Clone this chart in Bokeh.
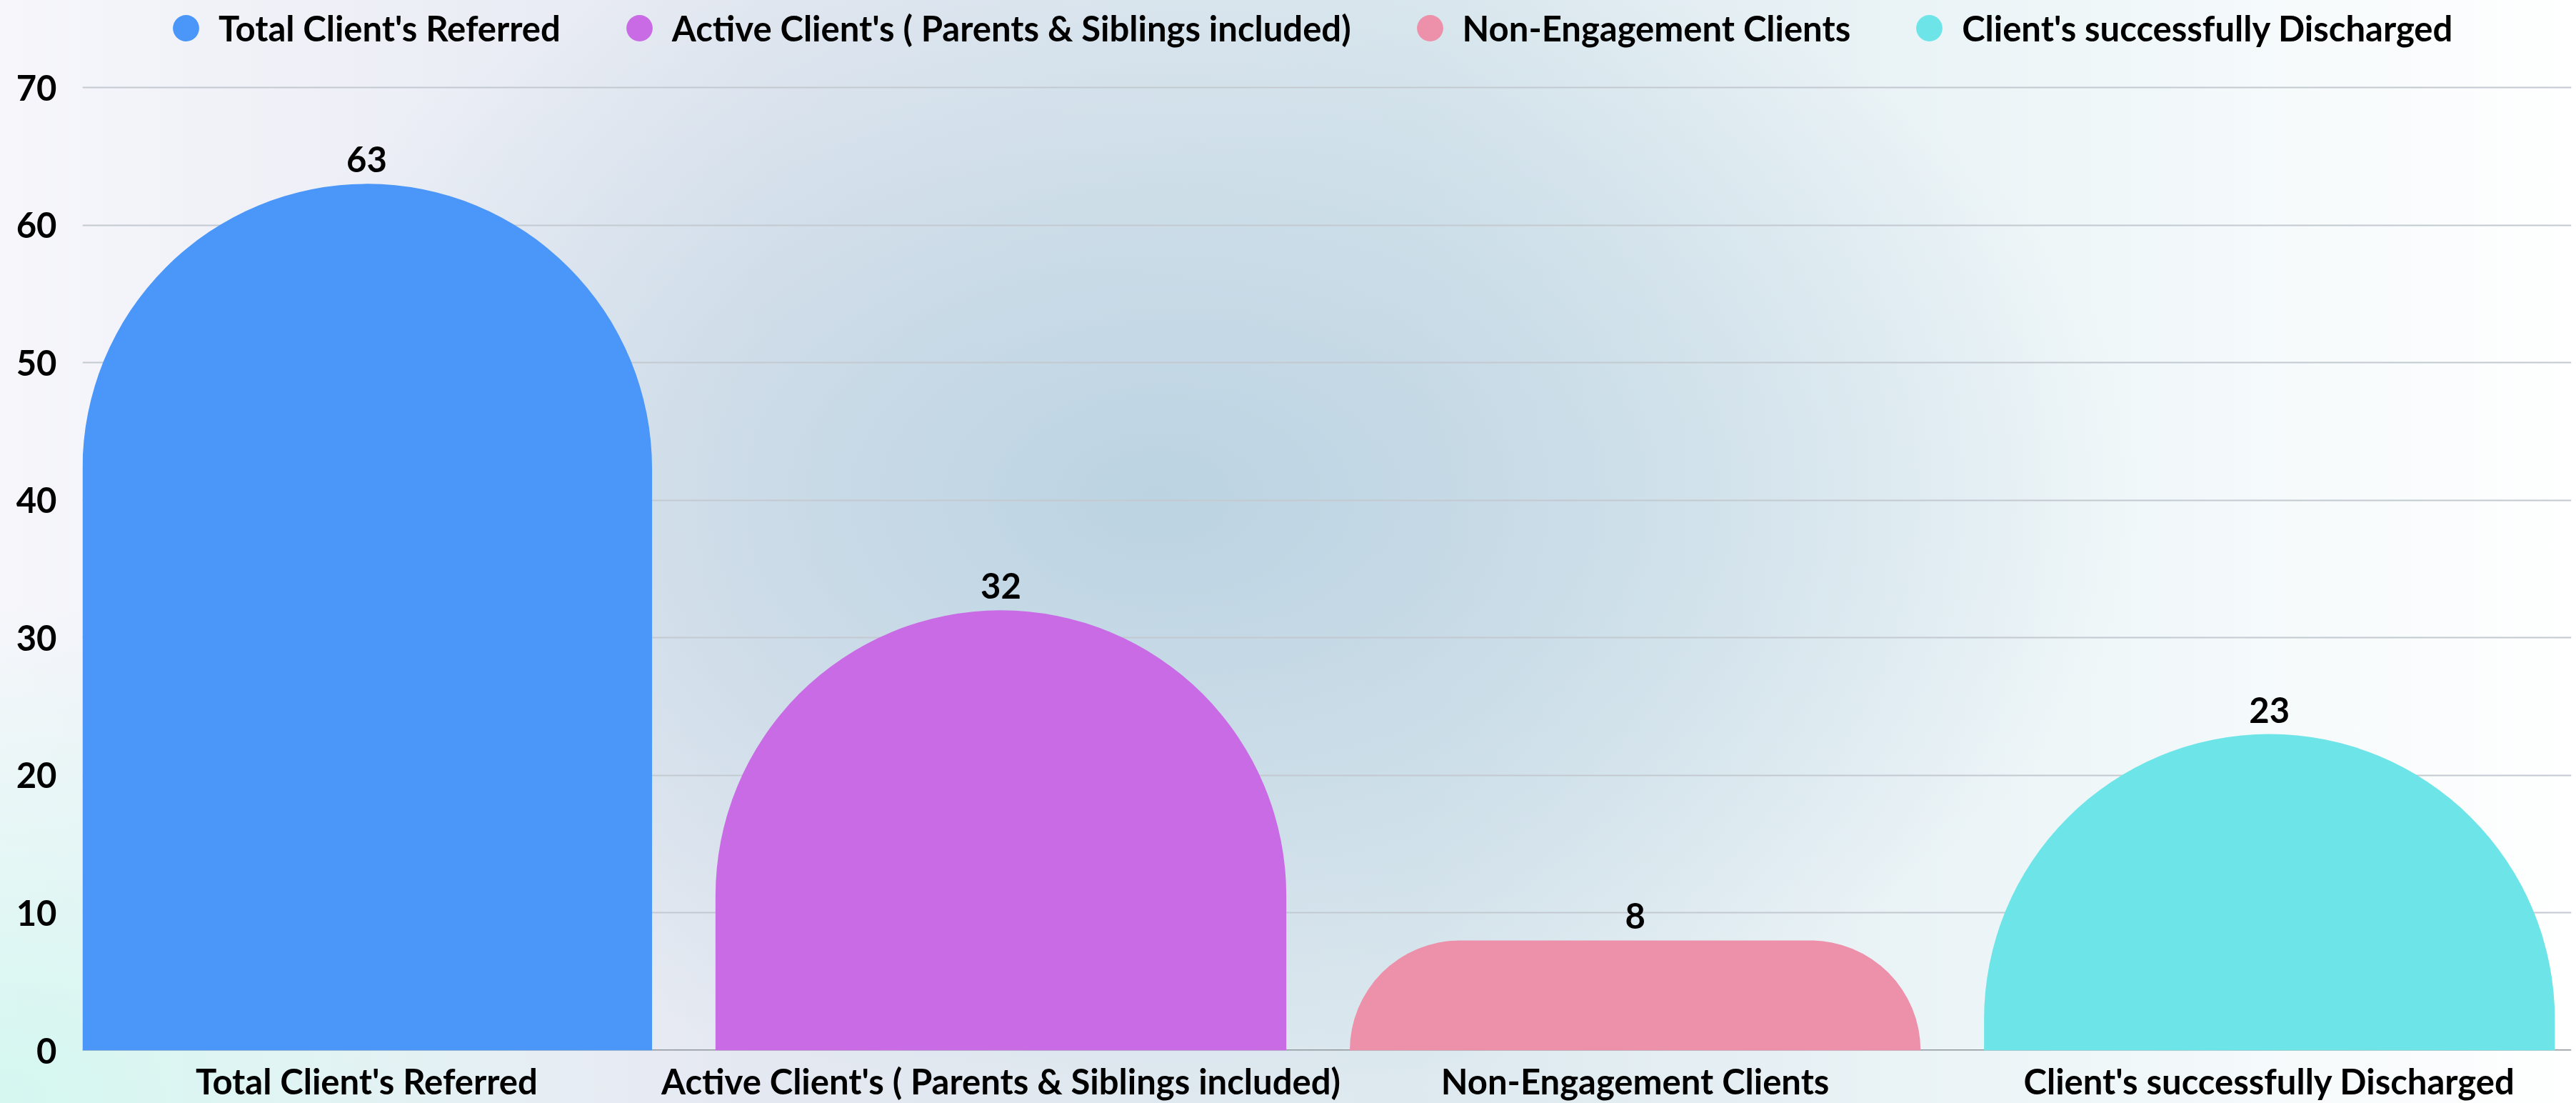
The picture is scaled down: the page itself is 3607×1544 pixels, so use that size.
from bokeh.plotting import figure
from bokeh.models import (ColumnDataSource, Range1d, FixedTicker, Legend, LegendItem, Span)
from bokeh.core.properties import value
from bokeh.embed import file_html
from bokeh.resources import INLINE

categories = ["Total Client's Referred",
              "Active Client's ( Parents & Siblings included)",
              "Non-Engagement Clients",
              "Client's successfully Discharged"]
counts = [63, 32, 8, 23]
colors = ["#4A96F9", "#C96BE5", "#ED91AA", "#6DE5E8"]
y_ticks = [0, 10, 20, 30, 40, 50, 60, 70]

FONT = "Lato"
FSIZE = "49px"

positions = list(range(len(categories)))
src = ColumnDataSource(dict(x=positions, top=counts, color=colors,
                            label=[str(c) for c in counts]))

p = figure(width=3607, height=1544, title=None,
           x_range=Range1d(-0.448, 3.476), y_range=Range1d(0, 76.34),
           output_backend="svg", toolbar_location=None,
           min_border_left=115, min_border_right=7, min_border_top=0,
           min_border_bottom=74)

p.background_fill_color = None
p.border_fill_color = None
p.outline_line_color = None
p.styles = {
    "background-image": (
        "radial-gradient(ellipse 38% 55% at 45% 45%, rgba(186,210,225,0.95) 0%, "
        "rgba(186,210,225,0.55) 45%, rgba(186,210,225,0) 100%), "
        "radial-gradient(ellipse 25% 45% at 0% 100%, rgba(212,247,240,1) 0%, rgba(212,247,240,0) 100%), "
        "linear-gradient(90deg, #f6f6fb 0%, #e4e8f1 30%, #dde9ef 55%, #eef6f8 80%, #ffffff 100%)"
    )
}

p.ygrid.grid_line_color = "#c3c9d0"
p.ygrid.grid_line_width = 2
p.xgrid.grid_line_color = None

p.add_layout(Span(location=0, dimension="width", line_color="#8e959b",
                  line_width=3, level="underlay"))

p.vbar(x="x", top="top", bottom=0, width=0.9, source=src,
       fill_color="color", line_color=None, border_radius=(400, 400, 0, 0))

p.text(x="x", y="top", text="label", source=src, y_offset=-34,
       text_align="center", text_baseline="middle",
       text_font=value(FONT), text_font_style="bold", text_font_size=FSIZE,
       text_color="black")

items = []
for i, (cat, col) in enumerate(zip(categories, colors)):
    s = ColumnDataSource(dict(x=[positions[i]], y=[counts[i]]))
    r = p.scatter("x", "y", source=s, marker="circle", size=1,
                  fill_color=col, line_color=None, visible=False)
    items.append(LegendItem(label=cat, renderers=[r]))

legend = Legend(items=items, location=(99, 1385), orientation="horizontal",
                glyph_width=92, glyph_height=92, padding=0, margin=0,
                spacing=64, label_standoff=0,
                background_fill_alpha=0, border_line_alpha=0,
                label_text_font=FONT, label_text_font_style="bold",
                label_text_font_size=FSIZE, label_text_color="black")
p.add_layout(legend, "center")

p.yaxis.ticker = FixedTicker(ticks=y_ticks)
p.yaxis.axis_line_color = None
p.yaxis.major_tick_line_color = None
p.yaxis.minor_tick_line_color = None
p.yaxis.major_label_standoff = 30
p.yaxis.major_label_text_font = FONT
p.yaxis.major_label_text_font_style = "bold"
p.yaxis.major_label_text_font_size = FSIZE
p.yaxis.major_label_text_color = "black"

p.xaxis.ticker = FixedTicker(ticks=positions)
p.xaxis.major_label_overrides = {i: c for i, c in zip(positions, categories)}
p.xaxis.axis_line_color = None
p.xaxis.major_tick_line_color = None
p.xaxis.minor_tick_line_color = None
p.xaxis.major_label_standoff = 7
p.xaxis.major_label_text_font = FONT
p.xaxis.major_label_text_font_style = "bold"
p.xaxis.major_label_text_font_size = FSIZE
p.xaxis.major_label_text_color = "black"

open("out.html", "w").write(file_html(p, INLINE))
